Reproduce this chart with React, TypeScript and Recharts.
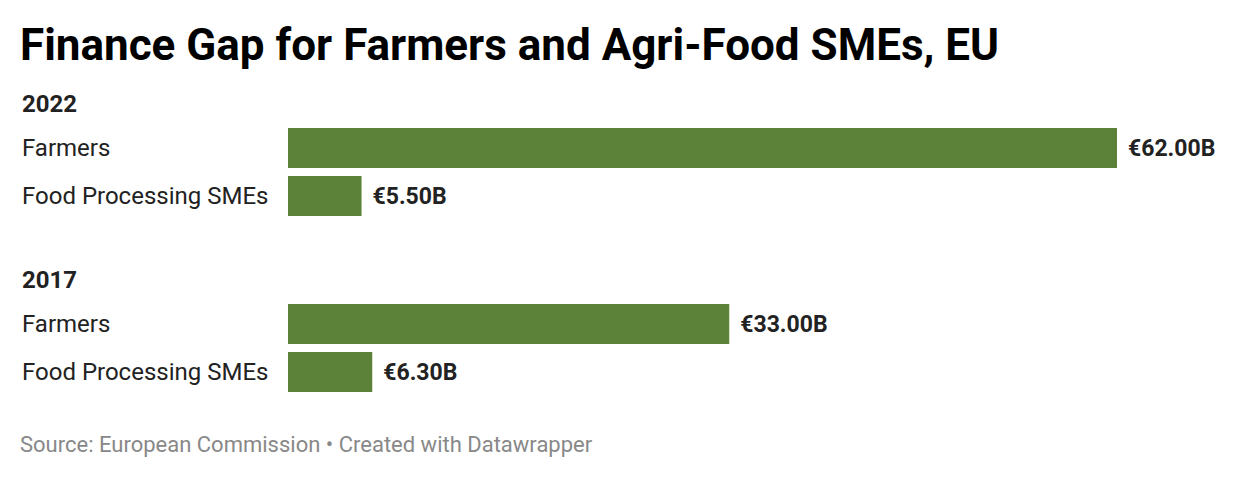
import { Bar, BarChart, LabelList, XAxis, YAxis } from 'recharts'

const categories = ['Farmers', 'Food Processing SMEs']
const values2022 = [62.0, 5.5]
const values2017 = [33.0, 6.3]
const groups = [
  { year: '2022', values: values2022 },
  { year: '2017', values: values2017 },
]

const GREEN = '#5c8139'
const FONT = 'Roboto, "Noto Sans", sans-serif'

function CategoryTick({ y, payload }: any) {
  return (
    <text x={22} y={y} dy="0.34em" textAnchor="start" fontSize={24} fill="#222" fontFamily={FONT}>
      {payload.value}
    </text>
  )
}

function GroupChart({ values }: { values: number[] }) {
  const data = categories.map((name, i) => ({ name, value: values[i] }))
  return (
    <BarChart
      width={1240}
      height={96}
      data={data}
      layout="vertical"
      margin={{ top: 0, right: 123, bottom: 0, left: 0 }}
      barSize={40}
    >
      <XAxis type="number" domain={[0, 62]} hide />
      <YAxis
        type="category"
        dataKey="name"
        width={288}
        axisLine={false}
        tickLine={false}
        tick={<CategoryTick />}
      />
      <Bar dataKey="value" fill={GREEN} isAnimationActive={false}>
        <LabelList
          dataKey="value"
          position="right"
          offset={11}
          formatter={(v: any) => `€${Number(v).toFixed(2)}B`}
          style={{ fontSize: 23, fontWeight: 700, fill: '#222', fontFamily: FONT }}
        />
      </Bar>
    </BarChart>
  )
}

export default function App() {
  const chartTops = [124, 300]
  const headerTops = [92, 268]
  return (
    <div style={{ position: 'relative', width: 1240, height: 478, fontFamily: FONT, background: '#fff' }}>
      <style>{`body{margin:0}`}</style>
      <div
        style={{
          position: 'absolute',
          left: 20,
          top: 23,
          fontSize: 44,
          lineHeight: '44px',
          fontWeight: 700,
          color: '#000',
          whiteSpace: 'nowrap',
        }}
      >
        Finance Gap for Farmers and Agri-Food SMEs, EU
      </div>
      {groups.map((g, i) => (
        <div key={g.year}>
          <div
            style={{
              position: 'absolute',
              left: 22,
              top: headerTops[i],
              fontSize: 24,
              lineHeight: '24px',
              fontWeight: 700,
              color: '#222',
            }}
          >
            {g.year}
          </div>
          <div style={{ position: 'absolute', left: 0, top: chartTops[i] }}>
            <GroupChart values={g.values} />
          </div>
        </div>
      ))}
      <div
        style={{
          position: 'absolute',
          left: 20,
          top: 434,
          fontSize: 22,
          lineHeight: '22px',
          color: '#888',
          whiteSpace: 'nowrap',
        }}
      >
        Source: European Commission • Created with Datawrapper
      </div>
    </div>
  )
}
